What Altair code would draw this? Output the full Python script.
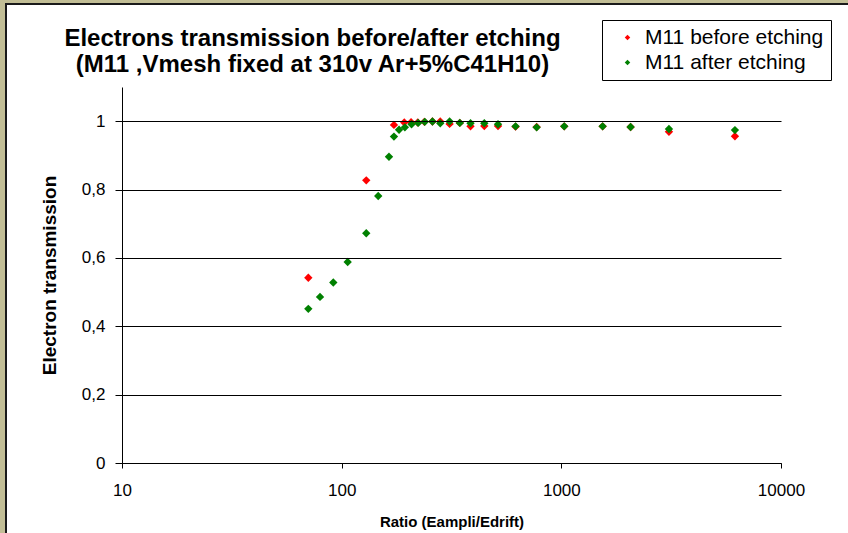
import altair as alt
import pandas as pd

before_x = [70.5, 129.4, 173, 192.8, 207, 222, 238, 259, 281, 310, 345, 386, 446, 515, 619, 772, 1031, 1542, 2067, 3090, 6170]
before_y = [0.542, 0.827, 0.989, 0.996, 0.997, 0.996, 0.998, 0.999, 0.999, 0.992, 0.995, 0.985, 0.986, 0.986, 0.984, 0.983, 0.985, 0.985, 0.983, 0.969, 0.956]

after_x = [70.5, 79.7, 91.6, 106.5, 129.4, 146.7, 164.2, 173, 182.5, 194, 208, 223, 239, 259, 281, 310, 345, 386, 446, 515, 619, 772, 1031, 1542, 2067, 3090, 6170]
after_y = [0.451, 0.486, 0.528, 0.588, 0.672, 0.781, 0.896, 0.955, 0.975, 0.982, 0.991, 0.995, 0.998, 0.999, 0.994, 0.999, 0.995, 0.994, 0.994, 0.991, 0.985, 0.982, 0.985, 0.985, 0.983, 0.977, 0.974]

series_names = ["M11 before etching", "M11 after etching"]
series_colors = ["#FF0000", "#008000"]

rows = []
for x, y in zip(before_x, before_y):
    rows.append({"ratio": x, "trans": y, "series": series_names[0]})
for x, y in zip(after_x, after_y):
    rows.append({"ratio": x, "trans": y, "series": series_names[1]})
df = pd.DataFrame(rows)

FONT = "Liberation Sans"

# decorative white frame on the beige background
frame = alt.Chart(pd.DataFrame({"a": [0]})).mark_rect(
    fill="white", stroke="#1a1a1a", strokeWidth=2
).encode(
    x=alt.value(-116), x2=alt.value(760),
    y=alt.value(-83), y2=alt.value(480)
)

points = alt.Chart(df).mark_point(
    shape="diamond", filled=True, size=70, opacity=1
).encode(
    x=alt.X("ratio:Q",
            scale=alt.Scale(type="log", domain=[10, 10000]),
            axis=alt.Axis(title="Ratio (Eampli/Edrift)", values=[10, 100, 1000, 10000],
                          format="d", grid=False, tickSize=5, labelPadding=14,
                          labelFlush=False, labelFontSize=17,
                          titlePadding=16, titleFontSize=15, zindex=1)),
    y=alt.Y("trans:Q",
            scale=alt.Scale(domain=[0, 1.1], nice=False),
            axis=alt.Axis(title="Electron transmission", values=[0, 0.2, 0.4, 0.6, 0.8, 1.0],
                          labelExpr="replace(format(datum.value, '.1~f'), '.', ',')",
                          grid=True, gridColor="#000000", gridWidth=1,
                          labelFontSize=17, titleFontSize=19,
                          tickSize=7, labelPadding=10, titlePadding=22, zindex=1)),
    color=alt.Color("series:N",
                    scale=alt.Scale(domain=series_names, range=series_colors),
                    legend=alt.Legend(title=None, orient="none", legendX=480, legendY=-67,
                                      fillColor="white", strokeColor="#000000",
                                      padding=7, symbolSize=30, symbolType="diamond",
                                      labelFontSize=21, labelFont=FONT, labelColor="#000000",
                                      rowPadding=3, symbolOffset=8, labelOffset=7,
                                      labelLimit=300, zindex=2))
)

chart = alt.layer(frame, points).properties(
    width=659, height=376,
    padding={"left": 122, "top": 87, "right": 67, "bottom": 70},
    autosize=alt.AutoSizeParams(type="none"),
    background="#C2BE96",
    title=alt.TitleParams(
        text=["Electrons transmission before/after etching",
              "(M11 ,Vmesh fixed at 310v Ar+5%C41H10)"],
        font=FONT, fontSize=24, fontWeight="bold", color="#000000",
        anchor="middle", dx=-139, dy=90, offset=16, lineHeight=26, zindex=2,
        frame="group"
    )
).configure_view(stroke=None).configure_axis(
    domainColor="#000000", tickColor="#000000", labelColor="#000000",
    titleColor="#000000", labelFont=FONT, titleFont=FONT,
    titleFontWeight="bold", domainWidth=1
)

chart.save("out.html", embed_options={"renderer": "svg", "actions": False})
